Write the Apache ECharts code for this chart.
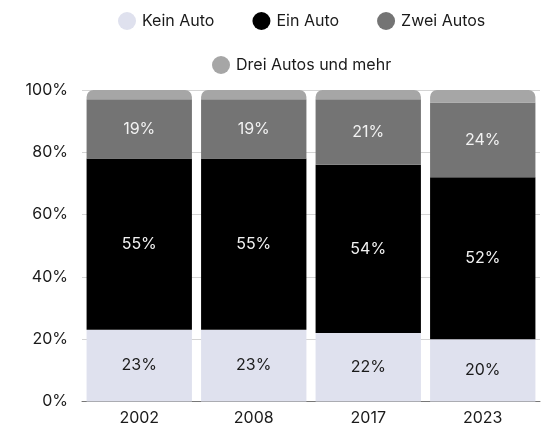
<!DOCTYPE html>
<html>
<head>
<meta charset="utf-8">
<script src="https://cdn.jsdelivr.net/npm/echarts@6/dist/echarts.min.js"></script>
<style>
  html, body { margin: 0; padding: 0; background: #ffffff; }
  #chart { width: 551px; height: 433px; }
</style>
</head>
<body>
<div id="chart"></div>
<script>
// Haushalte nach Anzahl Autos (Anteile in %)
const years = ['2002', '2008', '2017', '2023'];
const keinAuto = [23, 23, 22, 20];
const einAuto = [55, 55, 54, 52];
const zweiAutos = [19, 19, 21, 24];
const dreiAutos = [3, 3, 3, 4];
const yTicks = [0, 20, 40, 60, 80, 100];

const FONT = 'Inter, "Noto Sans", sans-serif';

const chart = echarts.init(document.getElementById('chart'), null, { renderer: 'canvas' });

function labelStyle(color) {
  return {
    show: true,
    position: 'inside',
    formatter: p => p.value + '%',
    color: color,
    fontSize: 16,
    fontFamily: FONT
  };
}

const legendText = { fontSize: 16, color: '#1a1a1a', fontFamily: FONT };

chart.setOption({
  animation: false,
  textStyle: { fontFamily: FONT },
  legend: [
    {
      data: ['Kein Auto', 'Ein Auto', 'Zwei Autos'],
      left: 113,
      top: 7,
      icon: 'circle',
      itemWidth: 20,
      itemHeight: 18,
      itemGap: 38,
      textStyle: legendText,
      selectedMode: false
    },
    {
      data: ['Drei Autos und mehr'],
      left: 207,
      top: 51,
      icon: 'circle',
      itemWidth: 20,
      itemHeight: 18,
      textStyle: legendText,
      selectedMode: false
    }
  ],
  grid: { left: 82, right: 11, top: 90, bottom: 31.5, containLabel: false },
  xAxis: {
    type: 'category',
    data: years,
    axisTick: { show: false },
    axisLine: { show: true, lineStyle: { color: '#777777', width: 1 } },
    axisLabel: { color: '#1a1a1a', fontSize: 16, margin: 9, fontFamily: FONT }
  },
  yAxis: {
    type: 'value',
    min: yTicks[0],
    max: yTicks[yTicks.length - 1],
    interval: 20,
    axisLine: { show: false },
    axisTick: { show: false },
    splitLine: { lineStyle: { color: '#d4d4d4', width: 1 } },
    axisLabel: { formatter: '{value}%', color: '#1a1a1a', fontSize: 16, margin: 14, fontFamily: FONT }
  },
  series: [
    {
      name: 'Kein Auto', type: 'bar', stack: 'total', data: keinAuto,
      barCategoryGap: '8%',
      itemStyle: { color: '#dfe1ee' },
      label: labelStyle('#1a1a1a')
    },
    {
      name: 'Ein Auto', type: 'bar', stack: 'total', data: einAuto,
      itemStyle: { color: '#000000' },
      label: labelStyle('#f2f2f2')
    },
    {
      name: 'Zwei Autos', type: 'bar', stack: 'total', data: zweiAutos,
      itemStyle: { color: '#747474' },
      label: labelStyle('#f2f2f2')
    },
    {
      name: 'Drei Autos und mehr', type: 'bar', stack: 'total', data: dreiAutos,
      itemStyle: { color: '#a6a6a6', borderRadius: [7, 7, 0, 0] },
      label: { show: false }
    }
  ]
});
</script>
</body>
</html>
